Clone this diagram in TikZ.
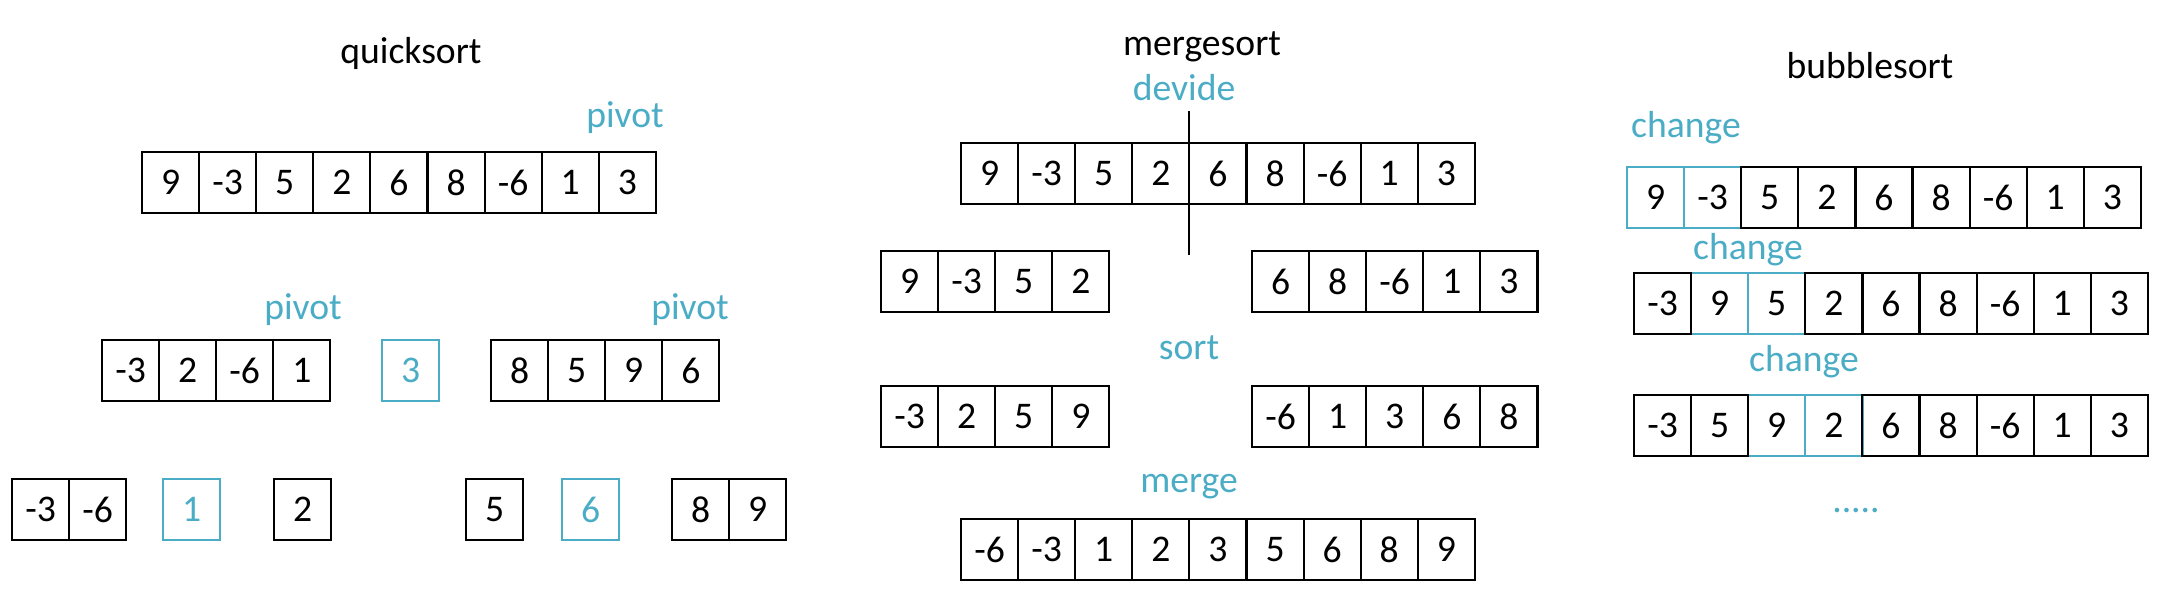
\documentclass[tikz,border=0pt]{standalone}
\usepackage{fontspec}
\setmainfont{Carlito}
\definecolor{accent}{HTML}{4BACC6}
\tikzset{
  cell/.style={draw=black, line width=0.6pt, minimum width=0.571cm, minimum height=0.61cm, inner sep=0pt, outer sep=0pt, font=\fontsize{10.7}{12}\selectfont},
  bluecell/.style={cell, draw=accent, text=accent},
  hlcell/.style={cell, draw=accent},
  headtext/.style={anchor=base, inner sep=0pt, font=\fontsize{10.7}{12}\selectfont},
  notetext/.style={headtext, text=accent},
  divider/.style={line width=0.4pt}
}
\newcommand\cells[6]{\foreach \v [count=\i from #4] in {#5} {\node[#6] (#1-\i) at ({#2+(\i-0.5)*57.1},{#3+30.5}) {\v};}}
\begin{document}
\begin{tikzpicture}[x=0.01cm,y=-0.01cm]
\useasboundingbox (0,0) rectangle (2158,594);
% ---------------- quicksort
\node[headtext] (qt) at (411,64) {quicksort};
\node[notetext] (qp0) at (625,127) {pivot};
\cells{q0}{142}{152}{1}{9,-3,5,2,6,8,-6,1,3}{cell}
\node[notetext] (qp1) at (303,319) {pivot};
\node[notetext] (qp2) at (690,319) {pivot};
\cells{q1a}{102}{340}{1}{-3,2,-6,1}{cell}
\cells{q1p}{382}{340}{1}{3}{bluecell}
\cells{q1b}{491}{340}{1}{8,5,9,6}{cell}
\cells{q2a}{12}{479}{1}{-3,-6}{cell}
\cells{q2p}{163}{479}{1}{1}{bluecell}
\cells{q2c}{274}{479}{1}{2}{cell}
\cells{q2d}{466}{479}{1}{5}{cell}
\cells{q2q}{562}{479}{1}{6}{bluecell}
\cells{q2e}{672}{479}{1}{8,9}{cell}
% ---------------- mergesort
\node[headtext] (mt) at (1202,55) {mergesort};
\node[notetext] (md) at (1184,100) {devide};
\coordinate (dtop) at (1189,111);
\coordinate (dbot) at (1189,255);
\cells{m0}{961}{143}{1}{9,-3,5,2,6,8,-6,1,3}{cell}
\draw[divider] (dtop) -- (dbot);
\cells{m1a}{881}{251}{1}{9,-3,5,2}{cell}
\cells{m1b}{1252}{251}{1}{6,8,-6,1,3}{cell}
\node[notetext] (ms) at (1189,359) {sort};
\cells{m2a}{881}{386}{1}{-3,2,5,9}{cell}
\cells{m2b}{1252}{386}{1}{-6,1,3,6,8}{cell}
\node[notetext] (mm) at (1189,492) {merge};
\cells{m3}{961}{519}{1}{-6,-3,1,2,3,5,6,8,9}{cell}
% ---------------- bubblesort
\node[headtext] (bt) at (1870,78) {bubblesort};
\node[notetext] (bc1) at (1686,137) {change};
\cells{b1}{1627}{167}{1}{9,-3}{hlcell}
\cells{b1}{1627}{167}{3}{5,2,6,8,-6,1,3}{cell}
\node[notetext] (bc2) at (1748,259) {change};
\cells{b2}{1634}{273}{2}{9,5}{hlcell}
\cells{b2}{1634}{273}{1}{-3}{cell}
\cells{b2}{1634}{273}{4}{2,6,8,-6,1,3}{cell}
\node[notetext] (bc3) at (1804,371) {change};
\cells{b3}{1634}{395}{3}{9,2}{hlcell}
\cells{b3}{1634}{395}{1}{-3,5}{cell}
\cells{b3}{1634}{395}{5}{6,8,-6,1,3}{cell}
\node[notetext] (bdots) at (1856,512) {.....};
\end{tikzpicture}
\end{document}
